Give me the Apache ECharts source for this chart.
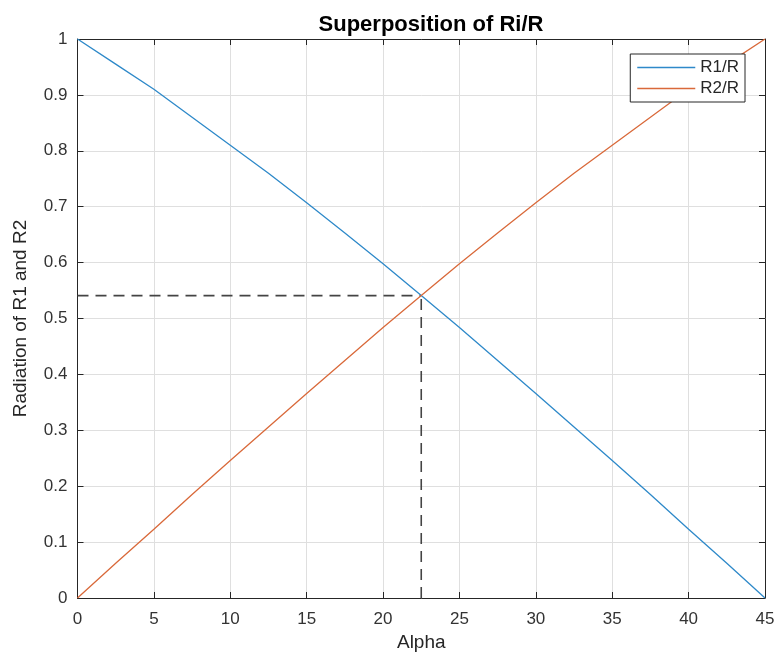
<!DOCTYPE html>
<html>
<head>
<meta charset="utf-8">
<script src="https://cdn.jsdelivr.net/npm/echarts@6/dist/echarts.min.js"></script>
<style>html,body{margin:0;padding:0;background:#fff}#c{width:779px;height:657px}</style>
</head>
<body>
<div id="c"></div>
<script>
var alpha = [0, 2.5, 5, 7.5, 10, 12.5, 15, 17.5, 20, 22.5, 25, 27.5, 30, 32.5, 35, 37.5, 40, 42.5, 45];
var r1 = [1, 0.955, 0.91, 0.86, 0.81, 0.76, 0.707, 0.653, 0.598, 0.541, 0.484, 0.425, 0.366, 0.306, 0.246, 0.185, 0.123, 0.062, 0];
var r2 = [0, 0.062, 0.123, 0.185, 0.246, 0.306, 0.366, 0.425, 0.484, 0.541, 0.598, 0.653, 0.707, 0.76, 0.81, 0.86, 0.91, 0.955, 1];
var crossX = 22.5;
var crossY = 0.541;
var seriesNames = ['R1/R', 'R2/R'];
var titleText = 'Superposition of Ri/R';
var xName = 'Alpha';
var yName = 'Radiation of R1 and R2';

var FONT = 'Liberation Sans, Arial, sans-serif';
var AX = '#262626';
function pairs(xs, ys) { return xs.map(function (x, i) { return [x, ys[i]]; }); }

var chart = echarts.init(document.getElementById('c'));
var baseX = { type: 'value', min: 0, max: 45, interval: 5 };
var baseY = { type: 'value', min: 0, max: 1, interval: 0.1 };
chart.setOption({
  animation: false,
  title: { text: titleText, left: 426, textAlign: 'center', top: 9,
    textStyle: { fontFamily: FONT, fontSize: 22, fontWeight: 'bold', color: '#000' } },
  grid: { left: 77.5, right: 14, top: 39, bottom: 58, containLabel: false },
  legend: { data: seriesNames, orient: 'vertical', right: 34, top: 54,
    backgroundColor: '#fff', borderColor: AX, borderWidth: 1, padding: [5, 6, 5, 7],
    icon: 'rect', itemWidth: 58, itemHeight: 1.4, itemGap: 4,
    textStyle: { fontFamily: FONT, fontSize: 17, color: AX } },
  xAxis: [
    Object.assign({}, baseX, { position: 'bottom', name: xName, nameLocation: 'middle', nameGap: 35,
      nameTextStyle: { fontFamily: FONT, fontSize: 19, color: AX },
      axisLine: { onZero: false, lineStyle: { color: AX, width: 1 } },
      axisTick: { inside: true, length: 6, lineStyle: { color: AX } },
      axisLabel: { margin: 13, fontFamily: FONT, fontSize: 17, color: '#333' },
      splitLine: { show: true, lineStyle: { color: '#dfdfdf', width: 1 } } }),
    Object.assign({}, baseX, { position: 'top',
      axisLine: { onZero: false, lineStyle: { color: AX, width: 1 } },
      axisTick: { inside: true, length: 6, lineStyle: { color: AX } },
      axisLabel: { show: false }, splitLine: { show: false } })
  ],
  yAxis: [
    Object.assign({}, baseY, { position: 'left', name: yName, nameLocation: 'middle', nameGap: 47,
      nameTextStyle: { fontFamily: FONT, fontSize: 19, color: AX },
      axisLine: { show: true, onZero: false, lineStyle: { color: AX, width: 1 } },
      axisTick: { show: true, inside: true, length: 6, lineStyle: { color: AX } },
      axisLabel: { margin: 10, fontFamily: FONT, fontSize: 17, color: '#333' },
      splitLine: { show: true, lineStyle: { color: '#dfdfdf', width: 1 } } }),
    Object.assign({}, baseY, { position: 'right',
      axisLine: { show: true, onZero: false, lineStyle: { color: AX, width: 1 } },
      axisTick: { show: true, inside: true, length: 6, lineStyle: { color: AX } },
      axisLabel: { show: false }, splitLine: { show: false } })
  ],
  series: [
    { name: seriesNames[0], type: 'line', data: pairs(alpha, r1), symbol: 'none',
      lineStyle: { color: '#2e89c9', width: 1.3 }, itemStyle: { color: '#2e89c9' }, z: 3 },
    { name: seriesNames[1], type: 'line', data: pairs(alpha, r2), symbol: 'none',
      lineStyle: { color: '#d9693a', width: 1.3 }, itemStyle: { color: '#d9693a' }, z: 3 },
    { name: 'hdash', type: 'line', data: [[0, crossY], [crossX, crossY]], symbol: 'none',
      lineStyle: { color: '#444', width: 1.6, type: [11, 7] }, z: 2 },
    { name: 'vdash', type: 'line', data: [[crossX, 0], [crossX, crossY]], symbol: 'none',
      lineStyle: { color: '#444', width: 1.6, type: [11, 7] }, z: 2 }
  ]
});
</script>
</body>
</html>
